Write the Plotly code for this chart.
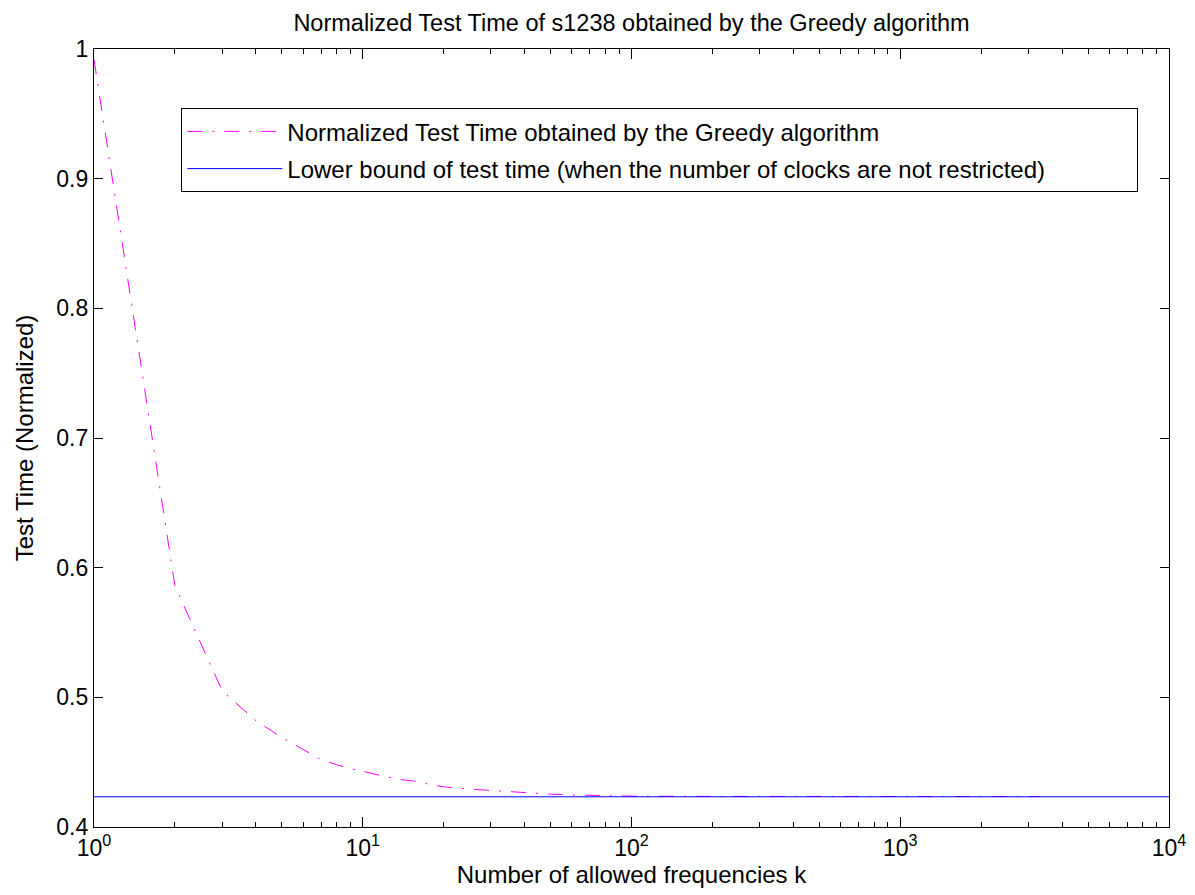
import plotly.graph_objects as go

# ---- data ----
k_greedy = [1, 2, 3, 4, 5, 6, 7, 8, 9, 10, 12, 14, 16, 18, 20, 25, 30, 35, 40, 50,
            60, 70, 80, 90, 100, 200, 500, 1000, 2000, 3300]
t_greedy = [0.992, 0.586, 0.505, 0.482, 0.469, 0.460, 0.452, 0.448, 0.445, 0.443,
            0.439, 0.4365, 0.435, 0.4325, 0.431, 0.4292, 0.4282, 0.427, 0.4263, 0.4253,
            0.4247, 0.4244, 0.4242, 0.424, 0.4238, 0.4236, 0.4235, 0.4235, 0.4235, 0.4235]
k_bound = [1, 10000]
t_bound = [0.4233, 0.4233]

x_tickvals = [1, 10, 100, 1000, 10000]
x_ticktext = ["10<sup>0</sup>", "10<sup>1</sup>", "10<sup>2</sup>", "10<sup>3</sup>", "10<sup>4</sup>"]
x_minor = [m * d for d in (1, 10, 100, 1000) for m in range(2, 10)]
y_tickvals = [0.4, 0.5, 0.6, 0.7, 0.8, 0.9, 1.0]
y_ticktext = ["0.4", "0.5", "0.6", "0.7", "0.8", "0.9", "1"]

name_greedy = "Normalized Test Time obtained by the Greedy algorithm"
name_bound = "Lower bound of test time (when the number of clocks are not restricted)"

FONT = "Liberation Sans, Arial, sans-serif"
PAD = "\u00a0" * 13  # right padding inside the legend box, as in the reference

fig = go.Figure()
fig.add_trace(go.Scatter(
    x=k_greedy, y=t_greedy, mode="lines",
    name=name_greedy,
    line=dict(color="#FF00FF", width=1, dash="15px,10px,2px,10px"),
    legendgroup="a",
))
fig.add_trace(go.Scatter(
    x=k_bound, y=t_bound, mode="lines",
    name=name_bound + PAD,
    line=dict(color="#0000FF", width=1),
    legendgroup="b",
))

fig.update_layout(
    width=1195, height=895,
    margin=dict(l=86, r=34, t=41, b=76),
    paper_bgcolor="white", plot_bgcolor="white",
    font=dict(family=FONT, size=23, color="black"),
    title=dict(text="Normalized Test Time of s1238 obtained by the Greedy algorithm",
               x=(86 + 1161) / 2 / 1195, xanchor="center", y=1 - 15 / 895, yanchor="middle",
               font=dict(size=23.5)),
    legend=dict(x=(173 - 86) / 1075, xanchor="left", y=(819 - 100) / 778, yanchor="top",
                bgcolor="white", bordercolor="black", borderwidth=1.3,
                itemwidth=95, tracegroupgap=3, font=dict(size=24)),
    showlegend=True,
)

fig.update_xaxes(
    type="log", range=[0, 4],
    tickmode="array", tickvals=x_tickvals, ticktext=x_ticktext,
    tickfont=dict(size=23),
    ticks="inside", ticklen=10, tickwidth=1.3, tickcolor="black",
    minor=dict(tickmode="array", tickvals=x_minor, ticks="inside", ticklen=5,
               tickwidth=1.3, tickcolor="black", showgrid=False),
    showline=True, linecolor="black", linewidth=1.3, mirror="ticks",
    showgrid=False, zeroline=False,
    title=dict(text="Number of allowed frequencies k", standoff=4, font=dict(size=24)),
)
fig.update_yaxes(
    range=[0.4, 1.0],
    tickmode="array", tickvals=y_tickvals, ticktext=y_ticktext,
    tickfont=dict(size=23),
    ticks="inside", ticklen=9, tickwidth=1.3, tickcolor="black",
    showline=True, linecolor="black", linewidth=1.3, mirror="ticks",
    showgrid=False, zeroline=False,
    title=dict(text="Test Time (Normalized)", standoff=15, font=dict(size=24)),
)

fig.write_html("out.html")
